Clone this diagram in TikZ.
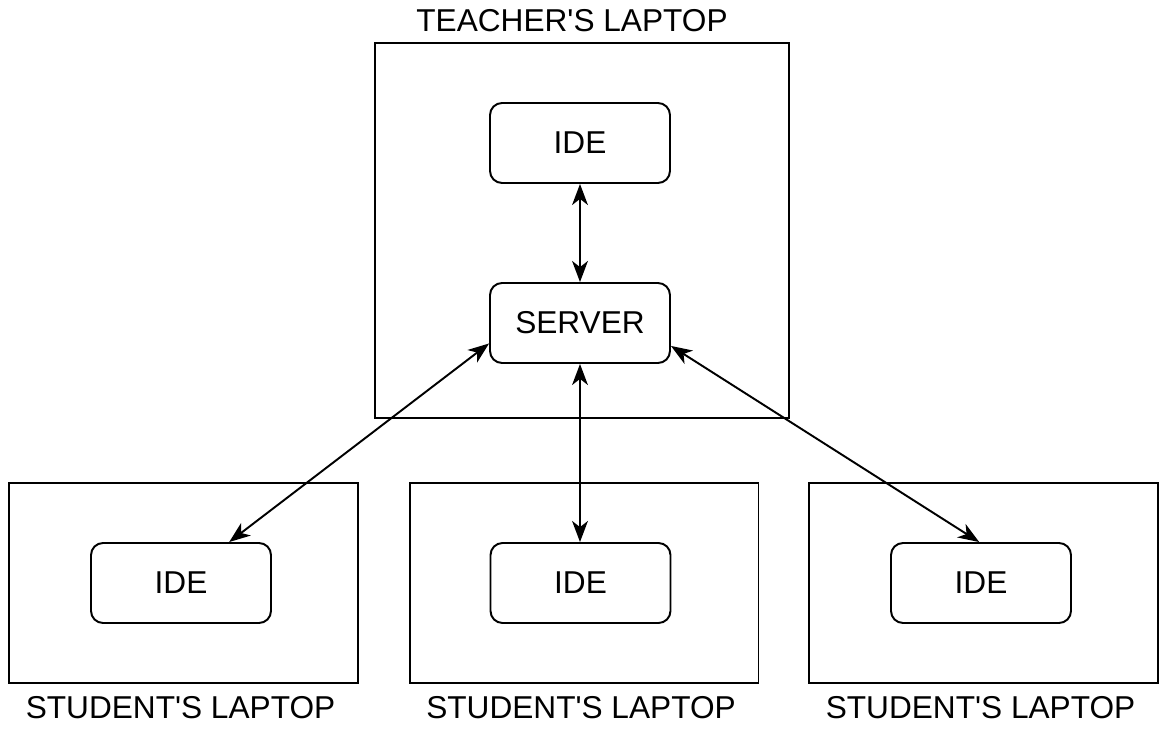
\documentclass[tikz,border=0pt]{standalone}
\usepackage{fontspec}
\setmainfont{Liberation Sans}
\usetikzlibrary{arrows.meta,calc}

\begin{document}
\begin{tikzpicture}[x=0.02cm, y=-0.02cm,
	every node/.style={font=\fontsize{18}{22}\selectfont},
	laptop/.style={draw, line width=1.1pt, minimum width=6.98cm, minimum height=4cm},
	app/.style={draw, line width=1.1pt, rounded corners=0.24cm, minimum width=3.6cm, minimum height=1.6cm},
	link/.style={line width=1.1pt, {Stealth[length=12pt,width=9pt,inset=3.5pt]}-{Stealth[length=12pt,width=9pt,inset=3.5pt]}}]
	\useasboundingbox (0,0) rectangle (1167,729);
	% teacher side
	\node[draw, line width=1.1pt, minimum width=8.28cm, minimum height=7.5cm] (teacher) at (582,230.5) {};
	\node (teacherlabel) at (572,21) {TEACHER\textquotesingle S LAPTOP};
	\node[app] (tide) at (580,143) {IDE};
	\node[app] (server) at (580,323) {SERVER};
	\draw[link] (tide) -- (server);
	% student side
	\foreach \x/\i in {183.5/1, 584/2, 983.5/3} {
		\node[laptop] (student\i) at (\x,583) {};
		\node (studentlabel\i) at (\x-3,708) {STUDENT\textquotesingle S LAPTOP};
	}
	\foreach \x/\i in {181/1, 580.5/2, 981/3} {\node[app] (side\i) at (\x,583) {IDE};}
	\coordinate (sl) at ($(server.north west)!0.75!(server.south west)$);
	\coordinate (sr) at ($(server.north east)!0.78!(server.south east)$);
	\coordinate (a1) at ($(side1.north west)!0.765!(side1.north east)$);
	\coordinate (a3) at ($(side3.north west)!0.49!(side3.north east)$);
	\draw[link] (sl) -- (a1);
	\draw[link] (server.south) -- (server.south |- side2.north);
	\draw[link] (sr) -- (a3);
\end{tikzpicture}
\end{document}
